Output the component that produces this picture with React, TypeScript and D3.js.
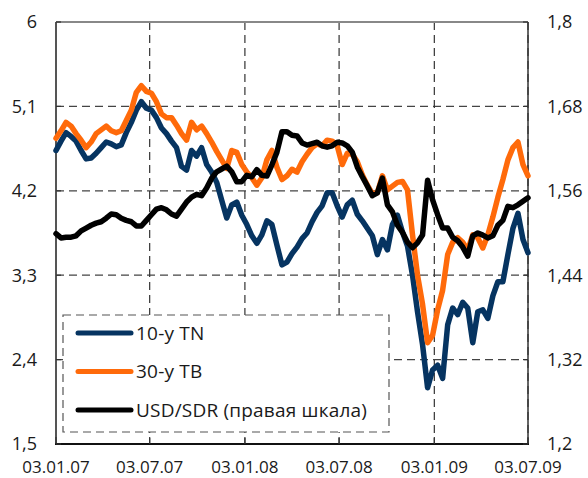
import React from 'react';
import * as d3 from 'd3';

const X_TICK_DATES = ['2007-01-03', '2007-07-03', '2008-01-03', '2008-07-03', '2009-01-03', '2009-07-03'];
const X_TICK_LABELS = ['03.01.07', '03.07.07', '03.01.08', '03.07.08', '03.01.09', '03.07.09'];
const LEFT_TICKS = [1.5, 2.4, 3.3, 4.2, 5.1, 6];
const LEFT_LABELS = ['1,5', '2,4', '3,3', '4,2', '5,1', '6'];
const RIGHT_TICKS = [1.2, 1.32, 1.44, 1.56, 1.68, 1.8];
const RIGHT_LABELS = ['1,2', '1,32', '1,44', '1,56', '1,68', '1,8'];
const SERIES_NAMES = ['10-y TN', '30-y TB', 'USD/SDR (правая шкала)'];

// sampled roughly every 10 days from 03.01.07 to 03.07.09
const TN10 = [
  4.63, 4.73, 4.82, 4.78, 4.73, 4.63, 4.54, 4.55, 4.60, 4.66,
  4.72, 4.70, 4.67, 4.69, 4.82, 4.93, 5.06, 5.15, 5.08, 5.06,
  4.98, 4.87, 4.81, 4.73, 4.66, 4.46, 4.42, 4.63, 4.57, 4.66,
  4.48, 4.40, 4.29, 4.10, 3.91, 4.05, 4.08, 3.94, 3.84, 3.72,
  3.64, 3.73, 3.88, 3.84, 3.62, 3.41, 3.44, 3.53, 3.60, 3.69,
  3.75, 3.87, 3.97, 4.04, 4.18, 4.18, 4.04, 3.92, 4.05, 4.10,
  3.95, 3.88, 3.80, 3.72, 3.52, 3.68, 3.57, 3.84, 3.94, 3.76,
  3.61, 3.30, 2.91, 2.56, 2.10, 2.29, 2.34, 2.20, 2.77, 2.95,
  2.88, 3.01, 2.95, 2.58, 2.91, 2.93, 2.84, 3.08, 3.23, 3.23,
  3.52, 3.80, 3.96, 3.68, 3.54,
];
const TB30 = [
  4.76, 4.84, 4.93, 4.89, 4.81, 4.74, 4.66, 4.72, 4.81, 4.85,
  4.89, 4.84, 4.82, 4.84, 4.95, 5.06, 5.25, 5.32, 5.26, 5.24,
  5.15, 5.02, 4.98, 4.98, 4.90, 4.81, 4.74, 4.93, 4.85, 4.89,
  4.81, 4.72, 4.62, 4.53, 4.44, 4.63, 4.61, 4.48, 4.40, 4.34,
  4.26, 4.34, 4.53, 4.63, 4.45, 4.32, 4.36, 4.43, 4.40, 4.51,
  4.59, 4.66, 4.70, 4.68, 4.74, 4.73, 4.68, 4.48, 4.60, 4.59,
  4.51, 4.37, 4.26, 4.17, 4.18, 4.36, 4.21, 4.25, 4.29, 4.30,
  4.21, 3.73, 3.30, 2.99, 2.58, 2.66, 2.93, 3.14, 3.52, 3.65,
  3.70, 3.65, 3.57, 3.73, 3.70, 3.59, 3.73, 3.92, 4.13, 4.32,
  4.53, 4.66, 4.72, 4.48, 4.36,
];
const USD_SDR = [
  1.499, 1.493, 1.494, 1.494, 1.496, 1.503, 1.507, 1.511, 1.514, 1.516,
  1.521, 1.527, 1.526, 1.521, 1.518, 1.516, 1.510, 1.510, 1.518, 1.526,
  1.534, 1.536, 1.533, 1.527, 1.524, 1.534, 1.544, 1.551, 1.555, 1.553,
  1.564, 1.578, 1.587, 1.591, 1.595, 1.587, 1.573, 1.573, 1.582, 1.580,
  1.590, 1.582, 1.581, 1.597, 1.615, 1.644, 1.644, 1.639, 1.638, 1.628,
  1.625, 1.627, 1.629, 1.624, 1.622, 1.624, 1.629, 1.628, 1.624, 1.615,
  1.594, 1.580, 1.567, 1.553, 1.557, 1.578, 1.540, 1.530, 1.511, 1.501,
  1.487, 1.479, 1.486, 1.497, 1.575, 1.547, 1.526, 1.507, 1.507, 1.494,
  1.489, 1.480, 1.467, 1.496, 1.500, 1.497, 1.493, 1.496, 1.511, 1.518,
  1.538, 1.536, 1.540, 1.545, 1.550,
];

const W = 588, H = 478;
const L = 56, R = 528, T = 22, B = 444;
const FONT = '"Open Sans", Lato, sans-serif';
const BLUE = '#063461';
const ORANGE = '#ff6a0a';
const BLACK = '#000000';
const TEXT = '#1a1a1a';

export default function App() {
  const parse = d3.timeParse('%Y-%m-%d');
  const start = parse(X_TICK_DATES[0])!;
  const end = parse(X_TICK_DATES[X_TICK_DATES.length - 1])!;
  const n = TN10.length;
  const dates = d3.range(n).map((i) => new Date(start.getTime() + ((end.getTime() - start.getTime()) * i) / (n - 1)));

  const x = d3.scaleTime().domain([start, end]).range([L, R]);
  const yL = d3.scaleLinear().domain([1.5, 6]).range([B, T]);
  const yR = d3.scaleLinear().domain([1.2, 1.8]).range([B, T]);

  const lineL = d3.line<number>().x((_, i) => x(dates[i])).y((d) => yL(d));
  const lineR = d3.line<number>().x((_, i) => x(dates[i])).y((d) => yR(d));

  const tickDates = X_TICK_DATES.map((s) => parse(s)!);
  const dash = '8,5';

  const legendItems = [
    { name: SERIES_NAMES[0], color: BLUE },
    { name: SERIES_NAMES[1], color: ORANGE },
    { name: SERIES_NAMES[2], color: BLACK },
  ];

  return (
    <>
      <style>{`body{margin:0;}`}</style>
      <svg width={W} height={H} style={{ display: 'block' }} fontFamily={FONT}>
        <rect x={0} y={0} width={W} height={H} fill="#fff" />
        {/* horizontal gridlines */}
        {LEFT_TICKS.slice(1, -1).map((v) => (
          <line key={'h' + v} x1={L} x2={R} y1={yL(v)} y2={yL(v)} stroke="#444" strokeWidth={1.2} strokeDasharray={dash} />
        ))}
        {/* vertical gridlines */}
        {tickDates.slice(1).map((d, i) => (
          <line key={'v' + i} x1={x(d)} x2={x(d)} y1={T} y2={B} stroke="#333" strokeWidth={1.2} strokeDasharray={dash} />
        ))}
        {/* frame */}
        <line x1={L} x2={R} y1={T} y2={T} stroke="#888" strokeWidth={2} />
        <line x1={L} x2={L} y1={T} y2={B} stroke="#555" strokeWidth={2} />
        <line x1={R} x2={R} y1={T} y2={B} stroke="#333" strokeWidth={1.5} />
        <line x1={L - 1} x2={R + 1} y1={B} y2={B} stroke="#111" strokeWidth={2.2} />
        {/* tick marks */}
        {LEFT_TICKS.map((v) => (
          <line key={'lt' + v} x1={L} x2={L + 5} y1={yL(v)} y2={yL(v)} stroke="#333" strokeWidth={1.2} />
        ))}
        {RIGHT_TICKS.map((v) => (
          <line key={'rt' + v} x1={R - 5} x2={R} y1={yR(v)} y2={yR(v)} stroke="#333" strokeWidth={1.2} />
        ))}
        {tickDates.map((d, i) => (
          <line key={'xt' + i} x1={x(d)} x2={x(d)} y1={B} y2={B - 7} stroke="#333" strokeWidth={1.2} />
        ))}
        {/* legend box */}
        <rect x={63} y={315} width={326} height={117} fill="#fff" stroke="#555" strokeWidth={1.2} strokeDasharray={dash} />
        {legendItems.map((it, i) => (
          <g key={it.name} transform={`translate(0, ${333 + i * 38.5})`}>
            <line x1={78} x2={131} y1={0} y2={0} stroke={it.color} strokeWidth={5} strokeLinecap="round" />
            <text x={136} y={0} dy="0.36em" fontSize={19} letterSpacing={0.2} fill={TEXT}>{it.name}</text>
          </g>
        ))}
        {/* series */}
        <path d={lineL(TN10) || ''} fill="none" stroke={BLUE} strokeWidth={5.5} strokeLinejoin="round" strokeLinecap="round" />
        <path d={lineL(TB30) || ''} fill="none" stroke={ORANGE} strokeWidth={5.5} strokeLinejoin="round" strokeLinecap="round" />
        <path d={lineR(USD_SDR) || ''} fill="none" stroke={BLACK} strokeWidth={5.5} strokeLinejoin="round" strokeLinecap="round" />
        {/* axis labels */}
        {LEFT_TICKS.map((v, i) => (
          <text key={'ll' + v} x={37} y={yL(v)} dy="0.36em" textAnchor="end" fontSize={18} fill={TEXT}>{LEFT_LABELS[i]}</text>
        ))}
        {RIGHT_TICKS.map((v, i) => (
          <text key={'rl' + v} x={547} y={yR(v)} dy="0.36em" textAnchor="start" fontSize={18} fill={TEXT}>{RIGHT_LABELS[i]}</text>
        ))}
        {tickDates.map((d, i) => (
          <text key={'xl' + i} x={x(d)} y={473} textAnchor="middle" fontSize={17} fill={TEXT}>{X_TICK_LABELS[i]}</text>
        ))}
      </svg>
    </>
  );
}
